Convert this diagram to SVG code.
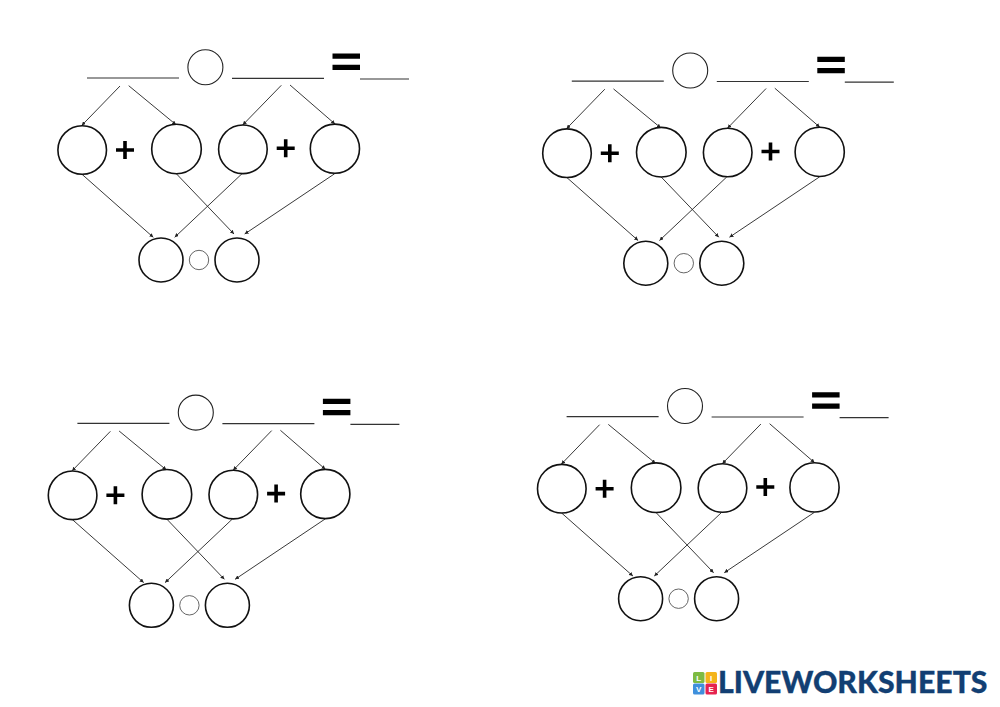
<svg xmlns="http://www.w3.org/2000/svg" width="1000" height="707" viewBox="0 0 1000 707">
<style>
.n{fill:#fff;stroke:#111;stroke-width:1.6}
.t{fill:#fff;stroke:#222;stroke-width:1.1}
.s{fill:#fff;stroke:#555;stroke-width:.9}
.a{fill:none;stroke:#222;stroke-width:.9;marker-end:url(#h)}
.l{stroke:#333;stroke-width:1.2}
.b{fill:#000}
.x{fill:#fff;font:700 8px "Liberation Sans",sans-serif;text-anchor:middle}
</style>
<defs>
<marker id="h" markerUnits="userSpaceOnUse" markerWidth="5" markerHeight="4" refX="4" refY="2" orient="auto"><path d="M0 0L4 2L0 4Z" fill="#222"/></marker>
</defs>
<rect width="1000" height="707" fill="#fff"/>

<g id="panel-1">
<g id="connectors-1">
<path class="a" d="M120 86L81.7 125.5"/><path class="a" d="M128.7 85.7L176 124.7"/><path class="a" d="M281.3 85.3L242.7 125"/><path class="a" d="M290 85L335 124"/>
<path class="a" d="M82 174.3L153.3 237.3"/><path class="a" d="M176.3 173.7L234 234"/><path class="a" d="M242 173.7L174.7 237.3"/><path class="a" d="M334.7 173.7L244.7 234"/>
</g>
<g id="p1-blanks"><path class="l" d="M87 78H179M232 78.3H324M360 79H409"/></g>
<g id="p1-equals"><path class="b" d="M332.5 53.5H360V58.8H332.5ZM332.5 64.7H360V70H332.5Z"/></g>
<g id="p1-plus-1"><path class="b" d="M116 148.2H134V151.8H116ZM123.2 141H126.8V159H123.2Z"/></g>
<g id="p1-plus-2"><path class="b" d="M276.7 146.5H294.7V150.1H276.7ZM283.9 139.3H287.5V157.3H283.9Z"/></g>
<g id="p1-op"><circle class="t" cx="205.4" cy="67.3" r="17.5"/></g>
<g id="p1-a"><circle class="n" cx="82.2" cy="150" r="24.3"/></g>
<g id="p1-b"><circle class="n" cx="176.5" cy="149" r="24.8"/></g>
<g id="p1-c"><circle class="n" cx="242.9" cy="149.3" r="24.3"/></g>
<g id="p1-d"><circle class="n" cx="334.9" cy="148.7" r="24.6"/></g>
<g id="p1-e"><circle class="n" cx="161" cy="260" r="22"/></g>
<g id="p1-f"><circle class="n" cx="237" cy="260" r="22"/></g>
<g id="p1-g"><circle class="s" cx="199" cy="260" r="9.7"/></g>
</g>

<g id="panel-2" transform="translate(484.8 3.2)">
<g id="connectors-2">
<path class="a" d="M120 86L81.7 125.5"/><path class="a" d="M128.7 85.7L176 124.7"/><path class="a" d="M281.3 85.3L242.7 125"/><path class="a" d="M290 85L335 124"/>
<path class="a" d="M82 174.3L153.3 237.3"/><path class="a" d="M176.3 173.7L234 234"/><path class="a" d="M242 173.7L174.7 237.3"/><path class="a" d="M334.7 173.7L244.7 234"/>
</g>
<g id="p2-blanks"><path class="l" d="M87 78H179M232 78.3H324M360 79H409"/></g>
<g id="p2-equals"><path class="b" d="M332.5 53.5H360V58.8H332.5ZM332.5 64.7H360V70H332.5Z"/></g>
<g id="p2-plus-1"><path class="b" d="M116 148.2H134V151.8H116ZM123.2 141H126.8V159H123.2Z"/></g>
<g id="p2-plus-2"><path class="b" d="M276.7 146.5H294.7V150.1H276.7ZM283.9 139.3H287.5V157.3H283.9Z"/></g>
<g id="p2-op"><circle class="t" cx="205.4" cy="67.3" r="17.5"/></g>
<g id="p2-a"><circle class="n" cx="82.2" cy="150" r="24.3"/></g>
<g id="p2-b"><circle class="n" cx="176.5" cy="149" r="24.8"/></g>
<g id="p2-c"><circle class="n" cx="242.9" cy="149.3" r="24.3"/></g>
<g id="p2-d"><circle class="n" cx="334.9" cy="148.7" r="24.6"/></g>
<g id="p2-e"><circle class="n" cx="161" cy="260" r="22"/></g>
<g id="p2-f"><circle class="n" cx="237" cy="260" r="22"/></g>
<g id="p2-g"><circle class="s" cx="199" cy="260" r="9.7"/></g>
</g>

<g id="panel-3" transform="translate(-9.6 345.3)">
<g id="connectors-3">
<path class="a" d="M120 86L81.7 125.5"/><path class="a" d="M128.7 85.7L176 124.7"/><path class="a" d="M281.3 85.3L242.7 125"/><path class="a" d="M290 85L335 124"/>
<path class="a" d="M82 174.3L153.3 237.3"/><path class="a" d="M176.3 173.7L234 234"/><path class="a" d="M242 173.7L174.7 237.3"/><path class="a" d="M334.7 173.7L244.7 234"/>
</g>
<g id="p3-blanks"><path class="l" d="M87 78H179M232 78.3H324M360 79H409"/></g>
<g id="p3-equals"><path class="b" d="M332.5 53.5H360V58.8H332.5ZM332.5 64.7H360V70H332.5Z"/></g>
<g id="p3-plus-1"><path class="b" d="M116 148.2H134V151.8H116ZM123.2 141H126.8V159H123.2Z"/></g>
<g id="p3-plus-2"><path class="b" d="M276.7 146.5H294.7V150.1H276.7ZM283.9 139.3H287.5V157.3H283.9Z"/></g>
<g id="p3-op"><circle class="t" cx="205.4" cy="67.3" r="17.5"/></g>
<g id="p3-a"><circle class="n" cx="82.2" cy="150" r="24.3"/></g>
<g id="p3-b"><circle class="n" cx="176.5" cy="149" r="24.8"/></g>
<g id="p3-c"><circle class="n" cx="242.9" cy="149.3" r="24.3"/></g>
<g id="p3-d"><circle class="n" cx="334.9" cy="148.7" r="24.6"/></g>
<g id="p3-e"><circle class="n" cx="161" cy="260" r="22"/></g>
<g id="p3-f"><circle class="n" cx="237" cy="260" r="22"/></g>
<g id="p3-g"><circle class="s" cx="199" cy="260" r="9.7"/></g>
</g>

<g id="panel-4" transform="translate(479.6 338.7)">
<g id="connectors-4">
<path class="a" d="M120 86L81.7 125.5"/><path class="a" d="M128.7 85.7L176 124.7"/><path class="a" d="M281.3 85.3L242.7 125"/><path class="a" d="M290 85L335 124"/>
<path class="a" d="M82 174.3L153.3 237.3"/><path class="a" d="M176.3 173.7L234 234"/><path class="a" d="M242 173.7L174.7 237.3"/><path class="a" d="M334.7 173.7L244.7 234"/>
</g>
<g id="p4-blanks"><path class="l" d="M87 78H179M232 78.3H324M360 79H409"/></g>
<g id="p4-equals"><path class="b" d="M332.5 53.5H360V58.8H332.5ZM332.5 64.7H360V70H332.5Z"/></g>
<g id="p4-plus-1"><path class="b" d="M116 148.2H134V151.8H116ZM123.2 141H126.8V159H123.2Z"/></g>
<g id="p4-plus-2"><path class="b" d="M276.7 146.5H294.7V150.1H276.7ZM283.9 139.3H287.5V157.3H283.9Z"/></g>
<g id="p4-op"><circle class="t" cx="205.4" cy="67.3" r="17.5"/></g>
<g id="p4-a"><circle class="n" cx="82.2" cy="150" r="24.3"/></g>
<g id="p4-b"><circle class="n" cx="176.5" cy="149" r="24.8"/></g>
<g id="p4-c"><circle class="n" cx="242.9" cy="149.3" r="24.3"/></g>
<g id="p4-d"><circle class="n" cx="334.9" cy="148.7" r="24.6"/></g>
<g id="p4-e"><circle class="n" cx="161" cy="260" r="22"/></g>
<g id="p4-f"><circle class="n" cx="237" cy="260" r="22"/></g>
<g id="p4-g"><circle class="s" cx="199" cy="260" r="9.7"/></g>
</g>

<g id="logo">
<rect x="693" y="672" width="11.5" height="11" rx="1.5" fill="#7dbb42"/>
<rect x="705.5" y="672" width="11.5" height="11" rx="1.5" fill="#f4b41a"/>
<rect x="693" y="683.5" width="11.5" height="11" rx="1.5" fill="#3f8fdc"/>
<rect x="705.5" y="683.5" width="11.5" height="11" rx="1.5" fill="#e5234f"/>
<text class="x" x="698.7" y="680.8">L</text><text class="x" x="711.2" y="680.8">I</text><text class="x" x="698.7" y="692">V</text><text class="x" x="711.2" y="692">E</text>
<text x="718" y="693" font-family="Lato,'Liberation Sans',sans-serif" font-weight="900" font-size="29.5" fill="#123f73" stroke="#123f73" stroke-width=".3" textLength="269.5" lengthAdjust="spacingAndGlyphs">LIVEWORKSHEETS</text>
</g>
</svg>
